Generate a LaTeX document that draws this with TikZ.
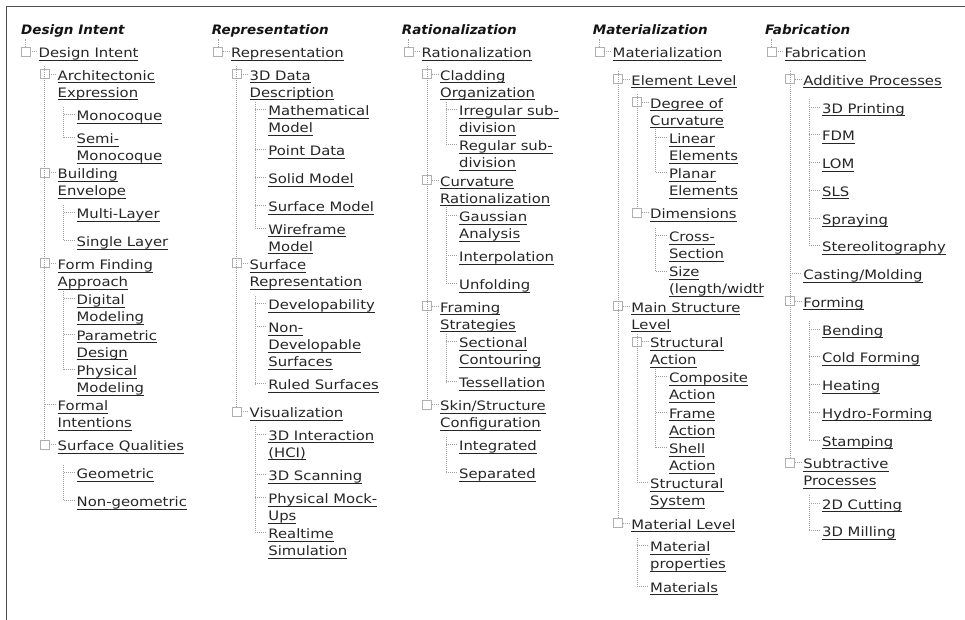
\documentclass[tikz,border=0pt]{standalone}
\usepackage{fontspec}
\setmainfont{DejaVu Sans}[FakeStretch=1.14]
\newfontfamily\hdrfont{DejaVu Sans Bold Oblique}[FakeStretch=1.04]
\usetikzlibrary{calc}
\definecolor{txt}{HTML}{262626}
\definecolor{dotc}{HTML}{A0A0A0}
\definecolor{boxc}{HTML}{B0B0B0}
\definecolor{frm}{HTML}{4E4E4E}
\newcommand\ulx[1]{\setbox0\hbox{#1}\rlap{\vrule height -2.2pt depth 3.2pt width \wd0}\box0}
\newcommand\one[1]{\ulx{#1}}
\newcommand\two[2]{\vtop{\baselineskip=17pt\lineskiplimit=-20pt\hbox{\ulx{#1}}\hbox{\ulx{#2}}}}
\newcommand\three[3]{\vtop{\baselineskip=17pt\lineskiplimit=-20pt\hbox{\ulx{#1}}\hbox{\ulx{#2}}\hbox{\ulx{#3}}}}
\tikzset{
 itm/.style={anchor=base west, inner sep=0pt, text=txt, font=\fontsize{13}{17}\selectfont},
 hdr/.style={anchor=base west, inner sep=0pt, text=black!92, font=\hdrfont\fontsize{13}{17}\selectfont},
 conn/.style={draw=dotc, line width=0.9pt, dash pattern=on 0.9pt off 1.1pt},
 boxst/.style={draw=boxc, line width=0.9pt},
 framel/.style={draw=frm, line width=1.6pt},
}
% leaf item: name, text x, centre y, content
\newcommand\lf[4]{\node[itm] (#1) at ({#2},{#3+4}) {#4};
  \draw[conn] ($(#1.base west)+(-13,-6)$) -- ($(#1.base west)+(-2,-6)$);}
% item with a box: name, text x, centre y, content
\newcommand\bx[4]{\node[itm] (#1) at ({#2},{#3+4}) {#4};
  \draw[boxst] ($(#1.base west)+(-17.5,-10.5)$) rectangle ($(#1.base west)+(-8.5,-1.5)$);
  \draw[conn] ($(#1.base west)+(-8.5,-6)$) -- ($(#1.base west)+(-2,-6)$);}
% sibling line: first child, last child (leaf / box)
\newcommand\vlf[2]{\draw[conn] ($(#1.base west)+(-13,-14)$) -- ($(#2.base west)+(-13,-6)$);}
\newcommand\vbx[2]{\draw[conn] ($(#1.base west)+(-13,-14)$) -- ($(#2.base west)+(-13,-10.5)$);}
% root stub up to the header
\newcommand\rst[1]{\draw[conn] ($(#1.base west)+(-13,-10.5)$) -- ($(#1.base west)+(-13,-19)$);}
\begin{document}
\begin{tikzpicture}[x=1pt,y=-1pt]
\fill[white] (0,0) rectangle (965,619);
\useasboundingbox (0,0) rectangle (965,619);
\draw[framel] (6.5,622) -- (6.5,6.5) -- (968,6.5);

% ---------------- Column 1 ----------------
\node[hdr] (h1) at (21,34) {Design Intent};
\bx{c1r}{38.5}{53.5}{\one{Design Intent}} \rst{c1r}
\bx{c1a}{57.5}{76.25}{\two{Architectonic}{Expression}}
\lf{c1a1}{76.5}{116.55}{\one{Monocoque}}
\lf{c1a2}{76.5}{139.3}{\two{Semi-}{Monocoque}}
\bx{c1b}{57.5}{174.6}{\two{Building}{Envelope}}
\lf{c1b1}{76.5}{214.9}{\one{Multi-Layer}}
\lf{c1b2}{76.5}{242.65}{\one{Single Layer}}
\bx{c1c}{57.5}{265.4}{\two{Form Finding}{Approach}}
\lf{c1c1}{76.5}{300.7}{\two{Digital}{Modeling}}
\lf{c1c2}{76.5}{336.0}{\two{Parametric}{Design}}
\lf{c1c3}{76.5}{371.3}{\two{Physical}{Modeling}}
\lf{c1d}{57.5}{406.6}{\two{Formal}{Intentions}}
\bx{c1e}{57.5}{446.9}{\one{Surface Qualities}}
\lf{c1e1}{76.5}{474.65}{\one{Geometric}}
\lf{c1e2}{76.5}{502.4}{\one{Non-geometric}}
\vbx{c1a}{c1e} \vlf{c1a1}{c1a2} \vlf{c1b1}{c1b2} \vlf{c1c1}{c1c3} \vlf{c1e1}{c1e2}

% ---------------- Column 2 ----------------
\node[hdr] (h2) at (211.7,34) {Representation};
\bx{c2r}{231}{53.5}{\one{Representation}} \rst{c2r}
\bx{c2a}{249.5}{76.25}{\two{3D Data}{Description}}
\lf{c2a1}{268.2}{111.55}{\two{Mathematical}{Model}}
\lf{c2a2}{268.2}{151.85}{\one{Point Data}}
\lf{c2a3}{268.2}{179.6}{\one{Solid Model}}
\lf{c2a4}{268.2}{207.35}{\one{Surface Model}}
\lf{c2a5}{268.2}{230.1}{\two{Wireframe}{Model}}
\bx{c2b}{249.5}{265.4}{\two{Surface}{Representation}}
\lf{c2b1}{268.2}{305.7}{\one{Developability}}
\lf{c2b2}{268.2}{328.45}{\three{Non-}{Developable}{Surfaces}}
\lf{c2b3}{268.2}{385.75}{\one{Ruled Surfaces}}
\bx{c2c}{249.5}{413.5}{\one{Visualization}}
\lf{c2c1}{268.2}{436.25}{\two{3D Interaction}{(HCI)}}
\lf{c2c2}{268.2}{476.55}{\one{3D Scanning}}
\lf{c2c3}{268.2}{499.3}{\two{Physical Mock-}{Ups}}
\lf{c2c4}{268.2}{534.6}{\two{Realtime}{Simulation}}
\vbx{c2a}{c2c} \vlf{c2a1}{c2a5} \vlf{c2b1}{c2b3} \vlf{c2c1}{c2c4}

% ---------------- Column 3 ----------------
\node[hdr] (h3) at (401.7,34) {Rationalization};
\bx{c3r}{421.5}{53.5}{\one{Rationalization}} \rst{c3r}
\bx{c3a}{440}{76.25}{\two{Cladding}{Organization}}
\lf{c3a1}{459}{111.55}{\two{Irregular sub-}{division}}
\lf{c3a2}{459}{146.85}{\two{Regular sub-}{division}}
\bx{c3b}{440}{182.15}{\two{Curvature}{Rationalization}}
\lf{c3b1}{459}{217.45}{\two{Gaussian}{Analysis}}
\lf{c3b2}{459}{257.75}{\one{Interpolation}}
\lf{c3b3}{459}{285.5}{\one{Unfolding}}
\bx{c3c}{440}{308.25}{\two{Framing}{Strategies}}
\lf{c3c1}{459}{343.55}{\two{Sectional}{Contouring}}
\lf{c3c2}{459}{383.85}{\one{Tessellation}}
\bx{c3d}{440}{406.6}{\two{Skin/Structure}{Configuration}}
\lf{c3d1}{459}{446.9}{\one{Integrated}}
\lf{c3d2}{459}{474.65}{\one{Separated}}
\vbx{c3a}{c3d} \vlf{c3a1}{c3a2} \vlf{c3b1}{c3b3} \vlf{c3c1}{c3c2} \vlf{c3d1}{c3d2}

% ---------------- Column 4 ----------------
\node[hdr] (h4) at (592.7,34) {Materialization};
\bx{c4r}{612.5}{53.5}{\one{Materialization}} \rst{c4r}
\bx{c4a}{631.2}{81.25}{\one{Element Level}}
\bx{c4a1}{650}{104}{\two{Degree of}{Curvature}}
\lf{c4a1a}{668.8}{139.3}{\two{Linear}{Elements}}
\lf{c4a1b}{668.8}{174.6}{\two{Planar}{Elements}}
\bx{c4a2}{650}{214.9}{\one{Dimensions}}
\lf{c4a2a}{668.8}{237.65}{\two{Cross-}{Section}}
\begin{scope}
\clip (640,250) rectangle (763.5,300);
\lf{c4a2b}{668.8}{272.95}{\two{Size}{(length/width)}}
\end{scope}
\bx{c4b}{631.2}{308.25}{\two{Main Structure}{Level}}
\bx{c4b1}{650}{343.55}{\two{Structural}{Action}}
\lf{c4b1a}{668.8}{378.85}{\two{Composite}{Action}}
\lf{c4b1b}{668.8}{414.15}{\two{Frame}{Action}}
\lf{c4b1c}{668.8}{449.45}{\two{Shell}{Action}}
\lf{c4b2}{650}{484.75}{\two{Structural}{System}}
\bx{c4c}{631.2}{525.05}{\one{Material Level}}
\lf{c4c1}{650}{547.8}{\two{Material}{properties}}
\lf{c4c2}{650}{588.1}{\one{Materials}}
\vbx{c4a}{c4c} \vbx{c4a1}{c4a2} \vlf{c4a1a}{c4a1b} \vlf{c4a2a}{c4a2b}
\vlf{c4b1}{c4b2} \vlf{c4b1a}{c4b1c} \vlf{c4c1}{c4c2}

% ---------------- Column 5 ----------------
\node[hdr] (h5) at (765,34) {Fabrication};
\bx{c5r}{784.5}{53.5}{\one{Fabrication}} \rst{c5r}
\bx{c5a}{803.2}{81.25}{\one{Additive Processes}}
\lf{c5a1}{822}{109}{\one{3D Printing}}
\lf{c5a2}{822}{136.75}{\one{FDM}}
\lf{c5a3}{822}{164.5}{\one{LOM}}
\lf{c5a4}{822}{192.25}{\one{SLS}}
\lf{c5a5}{822}{220}{\one{Spraying}}
\lf{c5a6}{822}{247.75}{\one{Stereolitography}}
\lf{c5b}{803.2}{275.5}{\one{Casting/Molding}}
\bx{c5c}{803.2}{303.25}{\one{Forming}}
\lf{c5c1}{822}{331}{\one{Bending}}
\lf{c5c2}{822}{358.75}{\one{Cold Forming}}
\lf{c5c3}{822}{386.5}{\one{Heating}}
\lf{c5c4}{822}{414.25}{\one{Hydro-Forming}}
\lf{c5c5}{822}{442}{\one{Stamping}}
\bx{c5d}{803.2}{464.75}{\two{Subtractive}{Processes}}
\lf{c5d1}{822}{505.05}{\one{2D Cutting}}
\lf{c5d2}{822}{532.8}{\one{3D Milling}}
\vbx{c5a}{c5d} \vlf{c5a1}{c5a6} \vlf{c5c1}{c5c5} \vlf{c5d1}{c5d2}
\end{tikzpicture}
\end{document}
